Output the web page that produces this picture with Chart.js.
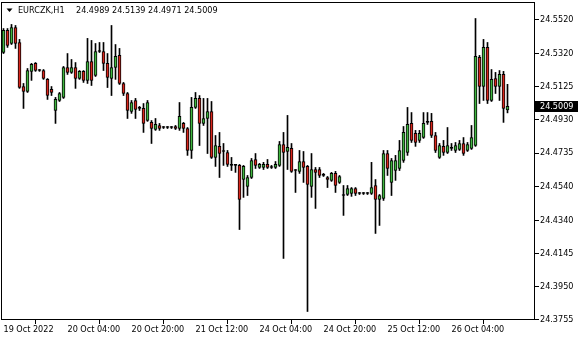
<!DOCTYPE html>
<html><head><meta charset="utf-8">
<script src="https://cdn.jsdelivr.net/npm/chart.js@4.4.0/dist/chart.umd.min.js"></script>
<style>html,body{margin:0;padding:0;background:#fff;}canvas{display:block;}</style>
</head><body>
<canvas id="c" width="580" height="340"></canvas>
<script>
const symbol = 'EURCZK,H1';
const openP = [
24.5326,24.5456,24.5379,24.5473,24.5385,24.5126,24.5097,24.5215,24.5262,24.5220,
24.5220,24.5168,24.5109,24.4985,24.5044,24.5062,24.5238,24.5209,24.5238,24.5173,
24.5215,24.5162,24.5273,24.5191,24.5332,24.5332,24.5262,24.5173,24.5238,24.5309,
24.5144,24.5085,24.4979,24.5044,24.4997,24.4997,24.4926,24.4915,24.4873,24.4897,
24.4885,24.4885,24.4885,24.4891,24.4879,24.4909,24.4879,24.4750,24.5003,24.5056,
24.4909,24.4938,24.4979,24.4709,24.4774,24.4744,24.4738,24.4662,24.4662,24.4662,
24.4579,24.4538,24.4591,24.4697,24.4650,24.4650,24.4668,24.4650,24.4650,24.4662,
24.4785,24.4744,24.4762,24.4632,24.4627,24.4685,24.4656,24.4538,24.4638,24.4638,
24.4603,24.4591,24.4574,24.4615,24.4562,24.4485,24.4491,24.4497,24.4526,24.4497,
24.4497,24.4497,24.4497,24.4544,24.4462,24.4468,24.4732,24.4562,24.4632,24.4644,
24.4691,24.4738,24.4909,24.4850,24.4809,24.4826,24.4915,24.4921,24.4838,24.4709,
24.4774,24.4738,24.4762,24.4750,24.4756,24.4791,24.4750,24.4762,24.4779,24.5297,
24.5126,24.5356,24.5044,24.5173,24.5126,24.5197,24.4989];
const highP = [
24.5467,24.5467,24.5491,24.5485,24.5403,24.5144,24.5232,24.5262,24.5267,24.5226,
24.5226,24.5173,24.5126,24.5062,24.5091,24.5244,24.5320,24.5285,24.5267,24.5220,
24.5220,24.5409,24.5397,24.5379,24.5385,24.5385,24.5320,24.5485,24.5373,24.5350,
24.5150,24.5091,24.5044,24.5056,24.5009,24.5026,24.5044,24.4926,24.4938,24.4909,
24.4891,24.4891,24.4891,24.4897,24.5032,24.4915,24.4885,24.5062,24.5091,24.5073,
24.5056,24.5056,24.5038,24.4838,24.4856,24.4791,24.4750,24.4709,24.4668,24.4668,
24.4662,24.4603,24.4703,24.4732,24.4674,24.4680,24.4697,24.4662,24.4685,24.4803,
24.4856,24.4956,24.4791,24.4638,24.4750,24.4744,24.4662,24.4732,24.4650,24.4650,
24.4615,24.4597,24.4621,24.4627,24.4603,24.4544,24.4544,24.4532,24.4532,24.4503,
24.4503,24.4503,24.4680,24.4579,24.4491,24.4750,24.4750,24.4703,24.4721,24.4809,
24.4891,24.5003,24.4973,24.4868,24.4868,24.4973,24.4973,24.4968,24.4856,24.4791,
24.4809,24.4885,24.4791,24.4797,24.4809,24.4826,24.4797,24.4897,24.5526,24.5309,
24.5403,24.5385,24.5226,24.5209,24.5220,24.5215,24.5139];
const lowP = [
24.5320,24.5356,24.5373,24.5350,24.5115,24.4997,24.5091,24.5162,24.5215,24.5215,
24.5168,24.5050,24.5073,24.4909,24.5038,24.5056,24.5197,24.5203,24.5115,24.5168,
24.5150,24.5144,24.5132,24.5185,24.5326,24.5220,24.5120,24.5073,24.5168,24.5138,
24.5073,24.4938,24.4968,24.4938,24.4985,24.4856,24.4921,24.4791,24.4868,24.4868,
24.4879,24.4879,24.4879,24.4873,24.4868,24.4856,24.4721,24.4703,24.4997,24.4779,
24.4897,24.4732,24.4703,24.4656,24.4591,24.4662,24.4656,24.4632,24.4621,24.4285,
24.4474,24.4485,24.4585,24.4644,24.4644,24.4638,24.4644,24.4644,24.4644,24.4656,
24.4115,24.4638,24.4621,24.4503,24.4615,24.4562,24.3803,24.4474,24.4409,24.4591,
24.4597,24.4532,24.4568,24.4503,24.4556,24.4368,24.4485,24.4480,24.4485,24.4491,
24.4491,24.4491,24.4491,24.4262,24.4309,24.4456,24.4603,24.4485,24.4574,24.4632,
24.4680,24.4721,24.4797,24.4774,24.4797,24.4821,24.4903,24.4826,24.4738,24.4703,
24.4721,24.4732,24.4750,24.4738,24.4750,24.4721,24.4744,24.4756,24.4774,24.5026,
24.5044,24.5026,24.5038,24.5085,24.5044,24.4915,24.4971];
const closeP = [
24.5456,24.5367,24.5473,24.5379,24.5120,24.5097,24.5220,24.5256,24.5220,24.5220,
24.5173,24.5073,24.5091,24.5050,24.5085,24.5238,24.5209,24.5238,24.5173,24.5215,
24.5162,24.5273,24.5162,24.5332,24.5332,24.5262,24.5179,24.5238,24.5303,24.5144,
24.5085,24.4985,24.5032,24.4991,24.4997,24.4909,24.5032,24.4879,24.4903,24.4879,
24.4885,24.4885,24.4885,24.4879,24.4950,24.4879,24.4750,24.5003,24.5056,24.4909,
24.4938,24.4979,24.4709,24.4779,24.4732,24.4744,24.4668,24.4662,24.4662,24.4462,
24.4656,24.4591,24.4691,24.4662,24.4668,24.4668,24.4650,24.4650,24.4668,24.4785,
24.4738,24.4768,24.4627,24.4632,24.4685,24.4650,24.4550,24.4638,24.4621,24.4603,
24.4603,24.4579,24.4615,24.4544,24.4597,24.4485,24.4526,24.4526,24.4497,24.4497,
24.4497,24.4497,24.4532,24.4462,24.4485,24.4732,24.4644,24.4691,24.4691,24.4750,
24.4856,24.4903,24.4809,24.4797,24.4850,24.4909,24.4915,24.4838,24.4750,24.4779,
24.4738,24.4779,24.4762,24.4779,24.4791,24.4732,24.4785,24.4826,24.5303,24.5126,
24.5356,24.5044,24.5168,24.5126,24.5197,24.4997,24.5009];
const xTickIndex = [0,16,32,48,64,80,96,112];
const xTickLabels = ['19 Oct 2022','20 Oct 04:00','20 Oct 20:00','21 Oct 12:00','24 Oct 04:00','24 Oct 20:00','25 Oct 12:00','26 Oct 04:00'];
const yTickLabels = ['24.5520','24.5320','24.5125','24.4930','24.4735','24.4540','24.4340','24.4145','24.3950','24.3755'];

const BULL = '#3fb53f', BEAR = '#d9261c';
const FONT = "'DejaVu Sans Condensed','Liberation Sans',sans-serif";

const wickData = openP.map((o,i)=>({x:i, y:[lowP[i], highP[i]]}));
const bodyData = openP.map((o,i)=>({x:i, y:[o, closeP[i]]}));
const bodyColors = openP.map((o,i)=> closeP[i] > o ? BULL : (closeP[i] < o ? BEAR : '#000'));

const frame = {
  id:'frame',
  afterDraw(chart){
    const ctx = chart.ctx, a = chart.chartArea;
    ctx.save();
    ctx.strokeStyle = '#000'; ctx.lineWidth = 1;
    ctx.strokeRect(a.left+0.5, a.top+0.5, a.right-a.left-1, a.bottom-a.top-1);
    ctx.fillStyle = '#000';
    ctx.beginPath(); ctx.moveTo(6.5,8.5); ctx.lineTo(12.5,8.5); ctx.lineTo(9.5,12); ctx.closePath(); ctx.fill();
    ctx.font = '9px ' + FONT; ctx.textBaseline = 'middle'; ctx.textAlign = 'left';
    const n = openP.length - 1;
    ctx.fillText(symbol, 18, 10.5);
    ctx.fillText([openP[n],highP[n],lowP[n],closeP[n]].map(v=>v.toFixed(4)).join(' '), 76, 10.5);
    const y = Math.round(chart.scales.y.getPixelForValue(closeP[n]));
    ctx.fillStyle = '#000';
    ctx.fillRect(a.right, y-5, 43, 11);
    ctx.fillStyle = '#fff';
    ctx.fillText(closeP[n].toFixed(4), a.right+5, y+0.5);
    ctx.restore();
  }
};

new Chart(document.getElementById('c'), {
  type:'bar',
  data:{ datasets:[
    { data: bodyData, backgroundColor: bodyColors, borderColor:'#000', borderWidth:1, borderSkipped:false,
      barThickness:3, grouped:false, minBarLength:1, order:0 },
    { data: wickData, backgroundColor:'#000', borderWidth:0, barThickness:1, grouped:false, order:1 }
  ]},
  options:{
    responsive:false, animation:false,
    layout:{ padding:{ top:2, left:1, right:0, bottom:0 } },
    plugins:{ legend:{display:false}, tooltip:{enabled:false} },
    scales:{
      x:{ type:'linear', min:-0.625, max:132.875, offset:false,
        afterBuildTicks(s){ s.ticks = xTickIndex.map(v=>({value:v})); },
        afterFit(s){ s.height = 20; s.paddingLeft = 0; s.paddingRight = 0; s.paddingTop = 0; s.paddingBottom = 0; },
        grid:{ drawOnChartArea:false, drawTicks:true, tickLength:4, color:'#000' },
        border:{ display:false },
        ticks:{ autoSkip:false, maxRotation:0, minRotation:0, align:'start', padding:0, color:'#000',
          font:{ family:FONT, size:9 },
          callback(v,i){ return xTickLabels[i]; } } },
      y:{ type:'linear', position:'right', min:24.3753, max:24.5623,
        afterBuildTicks(s){ s.ticks = yTickLabels.map(v=>({value:parseFloat(v)})); },
        afterFit(s){ s.width = 45; s.paddingTop = 0; s.paddingBottom = 0; s.paddingLeft = 0; s.paddingRight = 0; },
        grid:{ drawOnChartArea:false, drawTicks:true, tickLength:4, color:'#000' },
        border:{ display:false },
        ticks:{ autoSkip:false, padding:1, color:'#000', font:{ family:FONT, size:9 },
          callback(v,i){ return yTickLabels[i]; } } }
    }
  },
  plugins:[frame]
});
</script>
</body></html>
